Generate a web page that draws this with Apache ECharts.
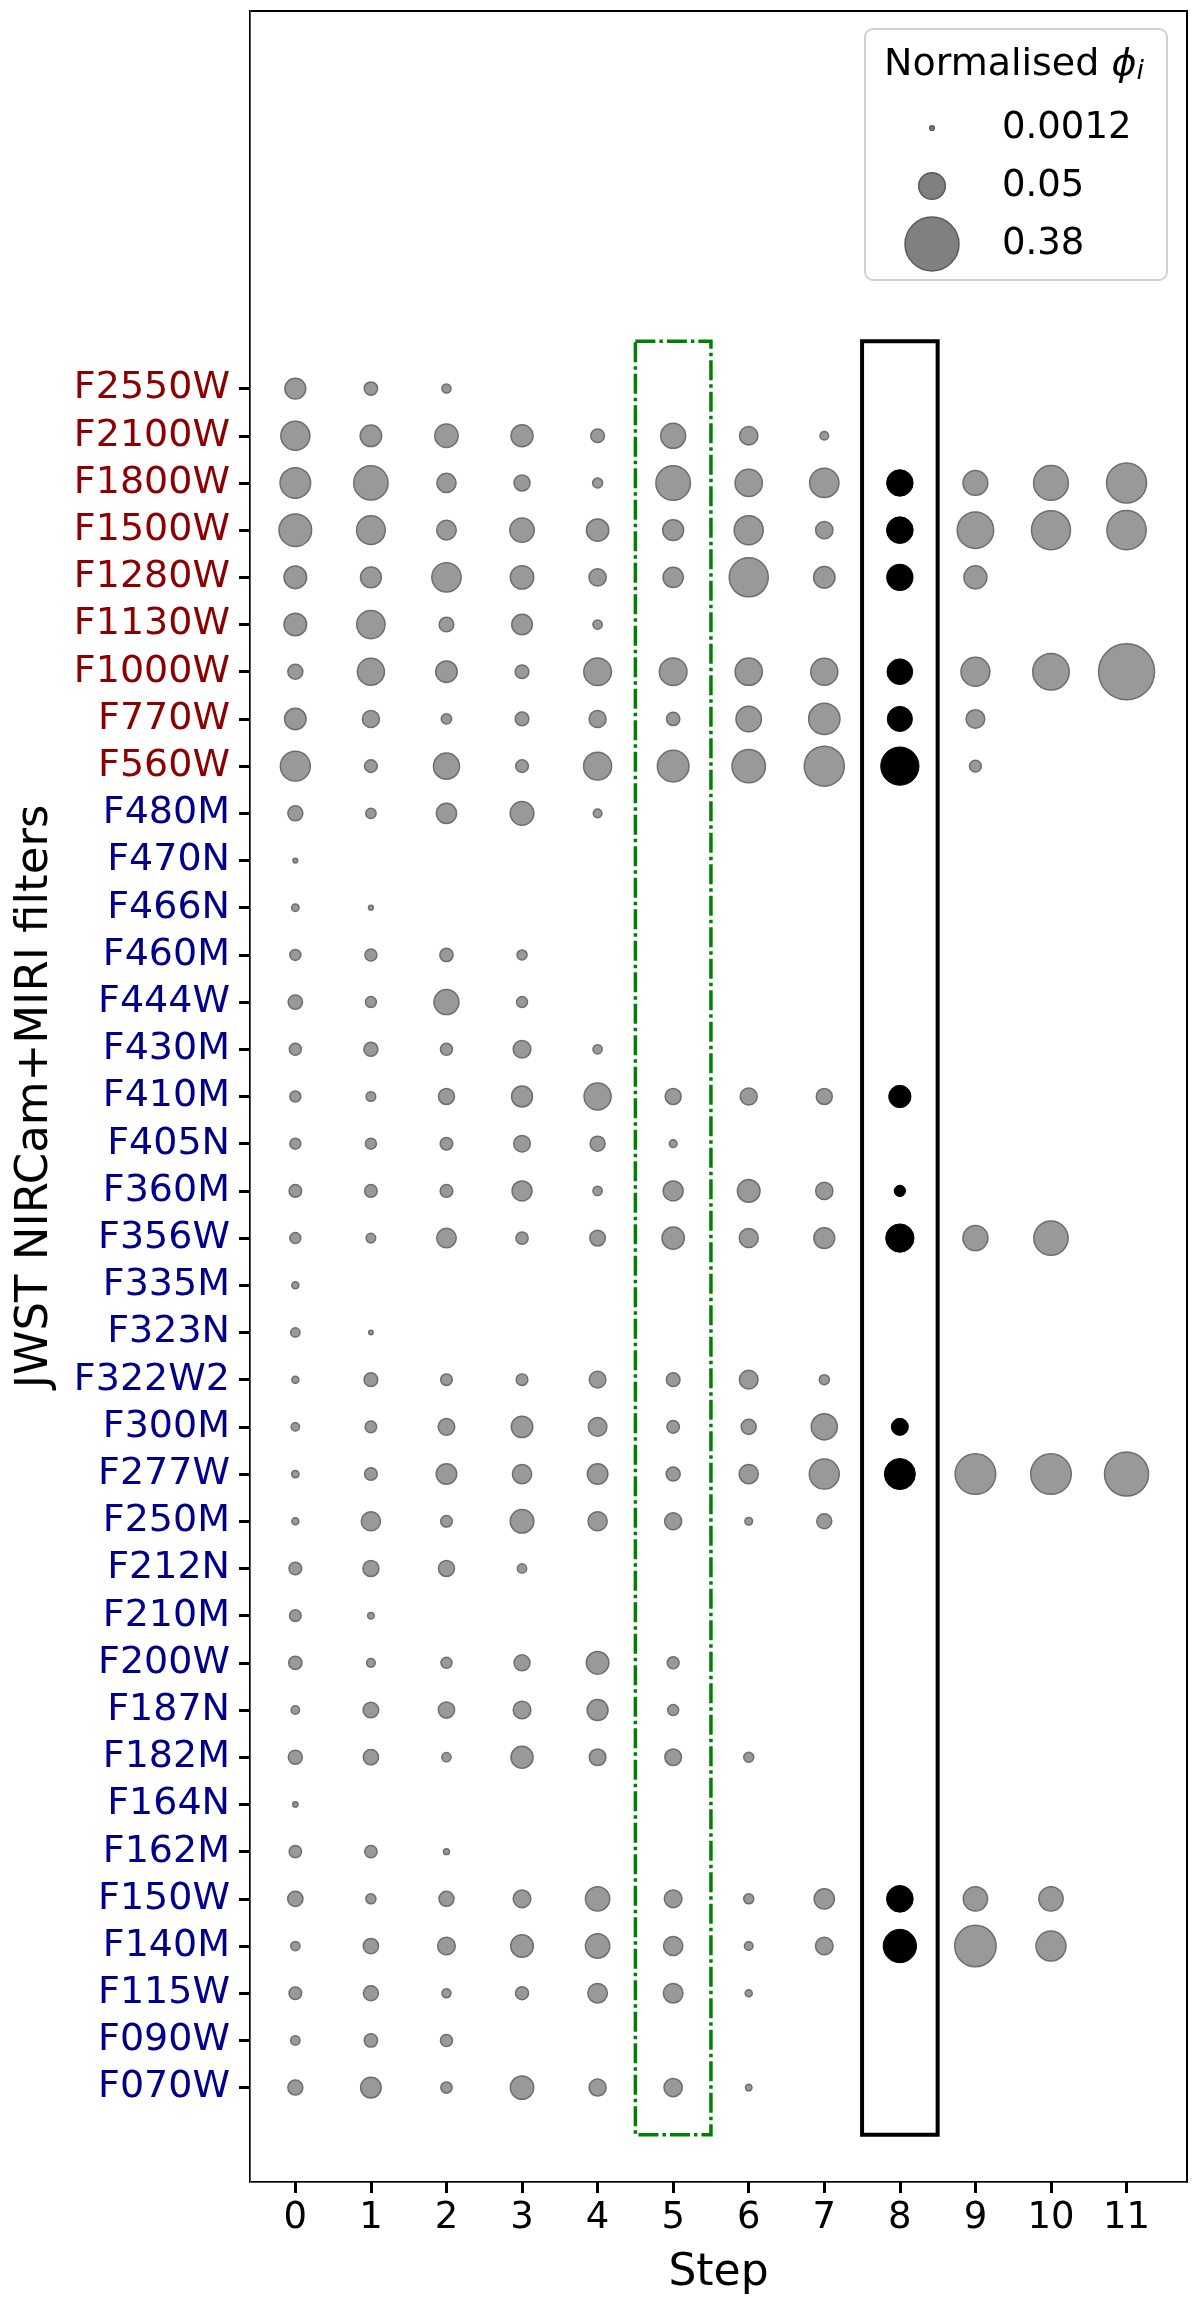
<!DOCTYPE html>
<html>
<head>
<meta charset="utf-8">
<script src="https://cdn.jsdelivr.net/npm/echarts@6/dist/echarts.min.js"></script>
<style>
html, body { margin: 0; padding: 0; background: #ffffff; }
#chart { width: 1200px; height: 2306px; }
</style>
</head>
<body>
<div id="chart"></div>
<script>
// Filters, top to bottom (first 9 are MIRI, the rest NIRCam)
const filters = [
  'F2550W', 'F2100W', 'F1800W', 'F1500W', 'F1280W', 'F1130W', 'F1000W', 'F770W', 'F560W',
  'F480M', 'F470N', 'F466N', 'F460M', 'F444W', 'F430M', 'F410M', 'F405N', 'F360M',
  'F356W', 'F335M', 'F323N', 'F322W2', 'F300M', 'F277W', 'F250M', 'F212N', 'F210M',
  'F200W', 'F187N', 'F182M', 'F164N', 'F162M', 'F150W', 'F140M', 'F115W', 'F090W', 'F070W'
];
const miriCount = 9;
const steps = [0, 1, 2, 3, 4, 5, 6, 7, 8, 9, 10, 11];
const selectedStep = 8;
const _ = null;

// Normalised phi_i per step, same order as `filters`
const phiStep0 = [
  0.026, 0.063, 0.073, 0.087, 0.032, 0.032, 0.0114, 0.028, 0.069,
  0.0114, 0.0012, 0.0025, 0.0056, 0.0102, 0.0068, 0.0056, 0.0056, 0.0076,
  0.0056, 0.0023, 0.0039, 0.0023, 0.0032, 0.0025, 0.0023, 0.0076, 0.0063,
  0.0086, 0.0032, 0.0097, 0.0014, 0.0072, 0.0119, 0.0039, 0.0076, 0.0039, 0.0114
];
const phiStep1 = [
  0.0086, 0.028, 0.101, 0.061, 0.026, 0.059, 0.052, 0.0155, 0.0076,
  0.0049, _, 0.0012, 0.0068, 0.0056, 0.0097, 0.0042, 0.0056, 0.0076,
  0.0042, _, 0.0011, 0.0091, 0.0063, 0.0076, 0.021, 0.0133, 0.0020,
  0.0034, 0.0125, 0.0119, _, 0.0072, 0.0046, 0.0119, 0.0114, 0.0086, 0.025
];
const phiStep2 = [
  0.0037, 0.035, 0.021, 0.022, 0.065, 0.0107, 0.028, 0.0049, 0.047,
  0.024, _, _, 0.0086, 0.042, 0.0068, 0.0133, 0.0076, 0.0076,
  0.022, _, _, 0.0063, 0.0146, 0.025, 0.0063, 0.0133, _,
  0.0056, 0.0139, 0.0039, _, 0.0017, 0.0114, 0.0169, 0.0037, 0.0068, 0.0059
];
const phiStep3 = [
  _, 0.030, 0.0133, 0.039, 0.035, 0.025, 0.0091, 0.0091, 0.0076,
  0.036, _, _, 0.0046, 0.0056, 0.0169, 0.026, 0.0146, 0.023,
  0.0072, _, _, 0.0063, 0.028, 0.021, 0.036, 0.0039, _,
  0.0133, 0.0169, 0.030, _, _, 0.0169, 0.032, 0.0082, _, 0.035
];
const phiStep4 = [
  _, 0.0091, 0.0046, 0.031, 0.016, 0.0039, 0.055, 0.0155, 0.057,
  0.0034, _, _, _, _, 0.0039, 0.052, 0.0114, 0.0039,
  0.0125, _, _, 0.0146, 0.0194, 0.025, 0.021, _, _,
  0.032, 0.026, 0.0146, _, _, 0.039, 0.039, 0.022, _, 0.0155
];
const phiStep5 = [
  _, 0.042, 0.103, 0.026, 0.024, _, 0.055, 0.0086, 0.080,
  _, _, _, _, _, _, 0.0133, 0.0027, 0.023,
  0.031, _, _, 0.0091, 0.0076, 0.0097, 0.0155, _, _,
  0.0068, 0.0056, 0.0146, _, _, 0.0169, 0.021, 0.022, _, 0.0186
];
const phiStep6 = [
  _, 0.0186, 0.053, 0.063, 0.146, _, 0.053, 0.044, 0.093,
  _, _, _, _, _, _, 0.0155, _, 0.032,
  0.0204, _, _, 0.0194, 0.0114, 0.021, 0.0027, _, _,
  _, _, 0.0046, _, _, 0.0046, 0.0034, 0.0023, _, 0.0020
];
const phiStep7 = [
  _, 0.0034, 0.065, 0.016, 0.028, _, 0.052, 0.078, 0.157,
  _, _, _, _, _, _, 0.0133, _, 0.016,
  0.026, _, _, 0.0046, 0.047, 0.069, 0.0114, _, _,
  _, _, _, _, _, 0.024, 0.0169, _, _, _
];
const phiStep8 = [
  _, _, 0.049, 0.050, 0.048, _, 0.045, 0.0425, 0.138,
  _, _, _, _, _, _, 0.031, _, 0.006,
  0.059, _, _, _, 0.0155, 0.076, _, _, _,
  _, _, _, _, _, 0.050, 0.093, _, _, _
];
const phiStep9 = [
  _, _, 0.041, 0.12, 0.0336, _, 0.062, 0.0194, 0.0066,
  _, _, _, _, _, _, _, _, _,
  0.042, _, _, _, _, 0.164, _, _, _,
  _, _, _, _, _, 0.039, 0.173, _, _, _
];
const phiStep10 = [
  _, _, 0.105, 0.146, _, _, 0.121, _, _,
  _, _, _, _, _, _, _, _, _,
  0.101, _, _, _, _, 0.164, _, _, _,
  _, _, _, _, _, 0.039, 0.069, _, _, _
];
const phiStep11 = [
  _, _, 0.157, 0.149, _, _, 0.425, _, _,
  _, _, _, _, _, _, _, _, _,
  _, _, _, _, _, 0.208, _, _, _,
  _, _, _, _, _, _, _, _, _, _
];
const phiBySteps = [phiStep0, phiStep1, phiStep2, phiStep3, phiStep4, phiStep5,
  phiStep6, phiStep7, phiStep8, phiStep9, phiStep10, phiStep11];

// Size legend entries
const legendValues = [0.0012, 0.05, 0.38];
const legendLabels = ['0.0012', '0.05', '0.38'];

// Highlight boxes: [step from, step to], [row index from bottom, to]
const greenBoxSteps = [4.5, 5.5];
const blackBoxSteps = [7.5, 8.5];
const boxRows = [-1, 37];

// Axis ranges
const xRange = [-0.6, 11.8];
const yRange = [-2, 44];

// marker diameter (px) for a normalised phi value
function sizeOf(v) { return 80 * Math.pow(v, 0.3) - 5.9; }

const nRows = filters.length;
const grayData = [];
const blackData = [];
steps.forEach(function (s) {
  phiBySteps[s].forEach(function (v, i) {
    if (v === null) return;
    const pt = [s, nRows - 1 - i, v];
    if (s === selectedStep) blackData.push(pt); else grayData.push(pt);
  });
});
const rowTicks = filters.map(function (f, i) { return i; });

const FONT = 'DejaVu Sans';
const chart = echarts.init(document.getElementById('chart'), null, { renderer: 'canvas' });

const legendGraphics = [{
  type: 'rect',
  shape: { x: 865, y: 29, width: 302, height: 251, r: 8 },
  style: { fill: '#ffffff', stroke: '#d0d0d0', lineWidth: 2 },
  z: 100
}, {
  type: 'text',
  x: 1014, y: 65,
  style: {
    text: 'Normalised {p|ϕ}{s|i}',
    fontFamily: FONT, fontSize: 38, fill: '#000',
    align: 'center', verticalAlign: 'middle',
    rich: {
      p: { fontFamily: FONT, fontStyle: 'italic', fontSize: 38, fill: '#000' },
      s: { fontFamily: FONT, fontStyle: 'italic', fontSize: 27, fill: '#000', padding: [14, 0, 0, 0] }
    }
  },
  z: 101
}];
legendValues.forEach(function (v, k) {
  const cy = 128 + k * 58;
  legendGraphics.push({
    type: 'circle',
    shape: { cx: 932, cy: cy, r: sizeOf(v) / 2 },
    style: { fill: '#808080', stroke: '#5a5a5a', lineWidth: 1.5 },
    z: 101
  });
  legendGraphics.push({
    type: 'text',
    x: 1002, y: cy,
    style: { text: legendLabels[k], fontFamily: FONT, fontSize: 37, fill: '#000', align: 'left', verticalAlign: 'middle' },
    z: 101
  });
});

chart.setOption({
  animation: false,
  grid: {
    left: 250, right: 13, top: 11, bottom: 124,
    show: true, borderColor: '#000', borderWidth: 2
  },
  xAxis: {
    type: 'value', min: xRange[0], max: xRange[1],
    name: 'Step', nameLocation: 'middle', nameGap: 70,
    nameTextStyle: { fontFamily: FONT, fontSize: 44, color: '#000' },
    axisLine: { show: true, onZero: false },
    splitLine: { show: false },
    axisTick: { show: true, customValues: steps, length: 11, lineStyle: { color: '#000000', width: 3 } },
    axisLabel: { customValues: steps, fontFamily: FONT, fontSize: 37, color: '#000', margin: 18 }
  },
  yAxis: {
    type: 'value', min: yRange[0], max: yRange[1],
    name: 'JWST NIRCam+MIRI filters', nameLocation: 'middle', nameGap: 192,
    nameTextStyle: { fontFamily: FONT, fontSize: 45, color: '#000' },
    axisLine: { show: true, onZero: false },
    splitLine: { show: false },
    axisTick: { show: true, customValues: rowTicks, length: 11, lineStyle: { color: '#000000', width: 3 } },
    axisLabel: {
      customValues: rowTicks, margin: 20,
      formatter: function (v) {
        const i = nRows - 1 - Math.round(v);
        if (i < 0 || i >= nRows) return '';
        return (i < miriCount ? '{m|' : '{n|') + filters[i] + '}';
      },
      rich: {
        m: { fontFamily: FONT, fontSize: 38, color: '#8B0000' },
        n: { fontFamily: FONT, fontSize: 38, color: '#00008B' }
      }
    }
  },
  series: [{
    type: 'scatter',
    name: 'phi',
    data: grayData,
    symbol: 'circle',
    symbolSize: function (d) { return sizeOf(d[2]); },
    itemStyle: { color: '#999999', borderColor: '#6e6e6e', borderWidth: 1.5, opacity: 1 },
    markArea: {
      silent: true,
      label: { show: false },
      data: [
        [{ xAxis: greenBoxSteps[0], yAxis: boxRows[1],
           itemStyle: { color: 'rgba(0,0,0,0)', borderColor: '#008000', borderWidth: 3.5, borderType: [20, 4, 3.5, 4] } },
         { xAxis: greenBoxSteps[1], yAxis: boxRows[0] }],
        [{ xAxis: blackBoxSteps[0], yAxis: boxRows[1],
           itemStyle: { color: 'rgba(0,0,0,0)', borderColor: '#000000', borderWidth: 4 } },
         { xAxis: blackBoxSteps[1], yAxis: boxRows[0] }]
      ]
    },
    z: 3
  }, {
    type: 'scatter',
    name: 'selected',
    data: blackData,
    symbol: 'circle',
    symbolSize: function (d) { return sizeOf(d[2]); },
    itemStyle: { color: '#000000', borderColor: '#000000', borderWidth: 1, opacity: 1 },
    z: 4
  }],
  graphic: legendGraphics
});
</script>
</body>
</html>
